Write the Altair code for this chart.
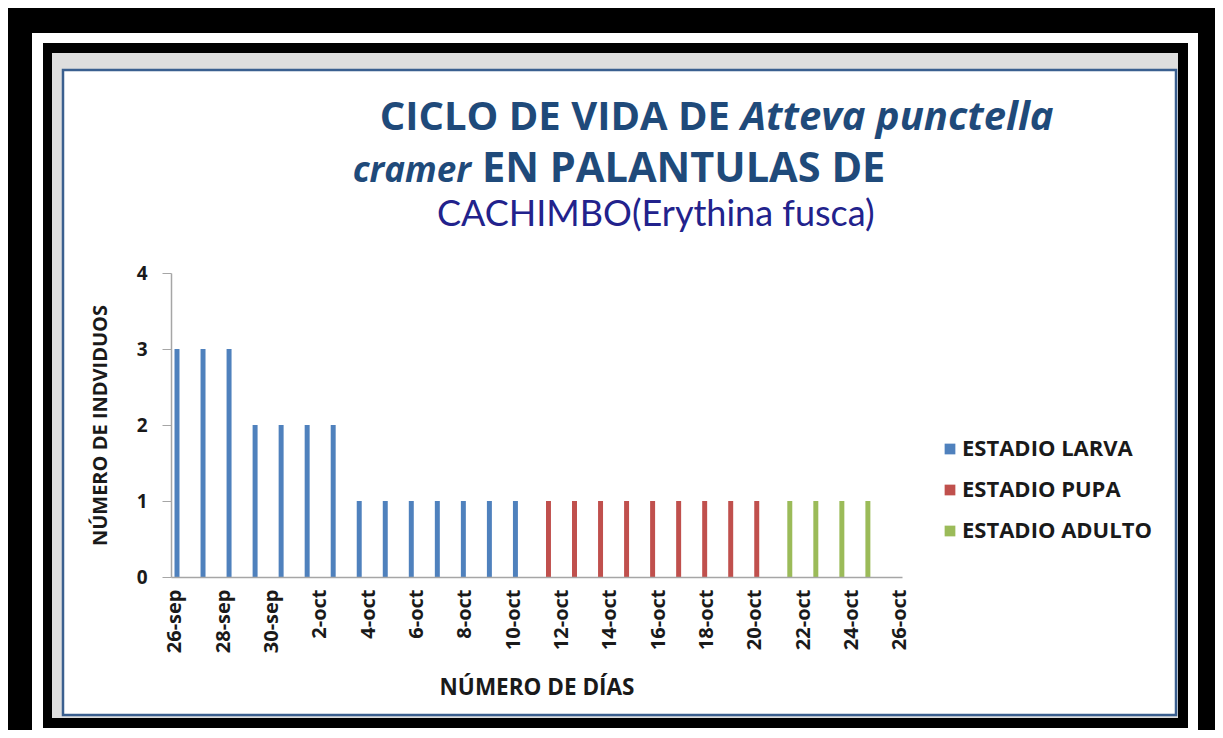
import altair as alt
import pandas as pd

# ---- data ----
dias = ["26-sep", "27-sep", "28-sep", "29-sep", "30-sep", "1-oct", "2-oct",
        "3-oct", "4-oct", "5-oct", "6-oct", "7-oct", "8-oct", "9-oct",
        "10-oct", "11-oct", "12-oct", "13-oct", "14-oct", "15-oct", "16-oct",
        "17-oct", "18-oct", "19-oct", "20-oct", "21-oct", "22-oct"]
larva = [3, 3, 3, 2, 2, 2, 2, 1, 1, 1, 1, 1, 1, 1]
pupa = [1, 1, 1, 1, 1, 1, 1, 1, 1]
adulto = [1, 1, 1, 1]
estadios = ["ESTADIO LARVA", "ESTADIO PUPA", "ESTADIO ADULTO"]
colores = ["#4F81BD", "#C0504D", "#9BBB59"]
etiquetas_x = ["26-sep", "28-sep", "30-sep", "2-oct", "4-oct", "6-oct", "8-oct",
               "10-oct", "12-oct", "14-oct", "16-oct", "18-oct", "20-oct",
               "22-oct", "24-oct", "26-oct"]

vals = larva + pupa + adulto
stage = [estadios[0]] * len(larva) + [estadios[1]] * len(pupa) + [estadios[2]] * len(adulto)
df = pd.DataFrame({"dia": dias, "n": vals, "estadio": stage})
df_lab = pd.DataFrame({"etiqueta": etiquetas_x})
one = pd.DataFrame({"k": [0]})

FONT = "Open Sans"
W, H = 731, 304
TXT = "#1a1a1a"

def rect(x, x2, y, y2, fill, stroke=None, sw=0):
    kw = dict(fill=fill)
    if stroke:
        kw.update(stroke=stroke, strokeWidth=sw)
    return alt.Chart(one).mark_rect(**kw).encode(
        x=alt.value(x), x2=alt.value(x2), y=alt.value(y), y2=alt.value(y2))

frame = (rect(-139, 1027, -240, 470, "white")
         + rect(-128, 1017, -230, 455, "black")
         + rect(-119, 1007, -220, 445, "#dedede")
         + rect(-108, 1005, -203, 442, "white", "#3A5F8F", 2.5))

def txt(s, x, y, align, size, color, weight="bold", style="normal", font=FONT):
    return alt.Chart(one).mark_text(
        text=s, align=align, baseline="alphabetic", font=font, fontSize=size,
        fontWeight=weight, fontStyle=style, color=color).encode(
        x=alt.value(x), y=alt.value(y))

TC = "#1F4A7A"
titles = (txt("CICLO DE VIDA DE", 559, -143, "right", 40, TC)
          + txt("Atteva punctella", 570, -143, "left", 40, TC, style="italic")
          + txt("cramer", 300, -91, "right", 35, TC, style="italic")
          + txt("EN PALANTULAS DE", 311, -91, "left", 41.5, TC)
          + txt("CACHIMBO(Erythina fusca)", 266, -47, "left", 36, "#22228C",
                weight="normal", font="Lato"))

bars = alt.Chart(df).mark_bar().encode(
    x=alt.X("dia:N", sort=dias, axis=None,
            scale=alt.Scale(paddingInner=0, paddingOuter=0.54, align=0)),
    xOffset=alt.XOffset("estadio:N", sort=estadios,
                        scale=alt.Scale(domain=estadios, paddingInner=0.29, paddingOuter=0.5)),
    y=alt.Y("n:Q", scale=alt.Scale(domain=[0, 4], nice=False),
            axis=alt.Axis(values=[0, 1, 2, 3, 4], grid=False, title="NÚMERO DE INDVIDUOS",
                          zindex=2,
                          domainColor="#a6a6a6", domainWidth=1.5, tickColor="#a6a6a6",
                          tickSize=9, labelFont=FONT, labelFontSize=19, labelFontWeight="bold",
                          labelColor=TXT, labelPadding=15, titleFont=FONT,
                          titleFontSize=20, titleFontWeight="bold", titleColor=TXT,
                          titlePadding=26)),
    color=alt.Color("estadio:N", sort=estadios,
                    scale=alt.Scale(domain=estadios, range=colores),
                    legend=alt.Legend(orient="none", legendX=768, legendY=165, title=None,
                                      symbolType="square", symbolSize=115, symbolStrokeWidth=0,
                                      labelFont=FONT, labelFontSize=22, labelFontWeight="bold",
                                      labelColor=TXT, rowPadding=19, labelOffset=1,
                                      labelLimit=0, padding=0, zindex=2)),
)

axis_layer = alt.Chart(df_lab).mark_point(opacity=0).encode(
    x=alt.X("etiqueta:N", sort=etiquetas_x,
            scale=alt.Scale(type="point", padding=0.062, align=0.66),
            axis=alt.Axis(orient="bottom", labelAngle=270, ticks=False, zindex=2,
                          domainColor="#a6a6a6", domainWidth=1.5,
                          labelFont=FONT, labelFontSize=20, labelFontWeight="bold",
                          labelColor=TXT, labelPadding=12,
                          title="NÚMERO  DE DÍAS", titleFont=FONT, titleFontSize=22.5,
                          titleFontWeight="bold", titleColor=TXT, titlePadding=24)),
    y=alt.value(0),
)

chart = alt.layer(frame, titles, bars, axis_layer).resolve_scale(x="independent").properties(
    width=W, height=H, background="black",
    autosize=alt.AutoSizeParams(type="none"),
    padding={"left": 163, "top": 265, "right": 313, "bottom": 153},
).configure_view(strokeWidth=0)

chart.save("out.html", embed_options={"renderer": "svg", "actions": False})
